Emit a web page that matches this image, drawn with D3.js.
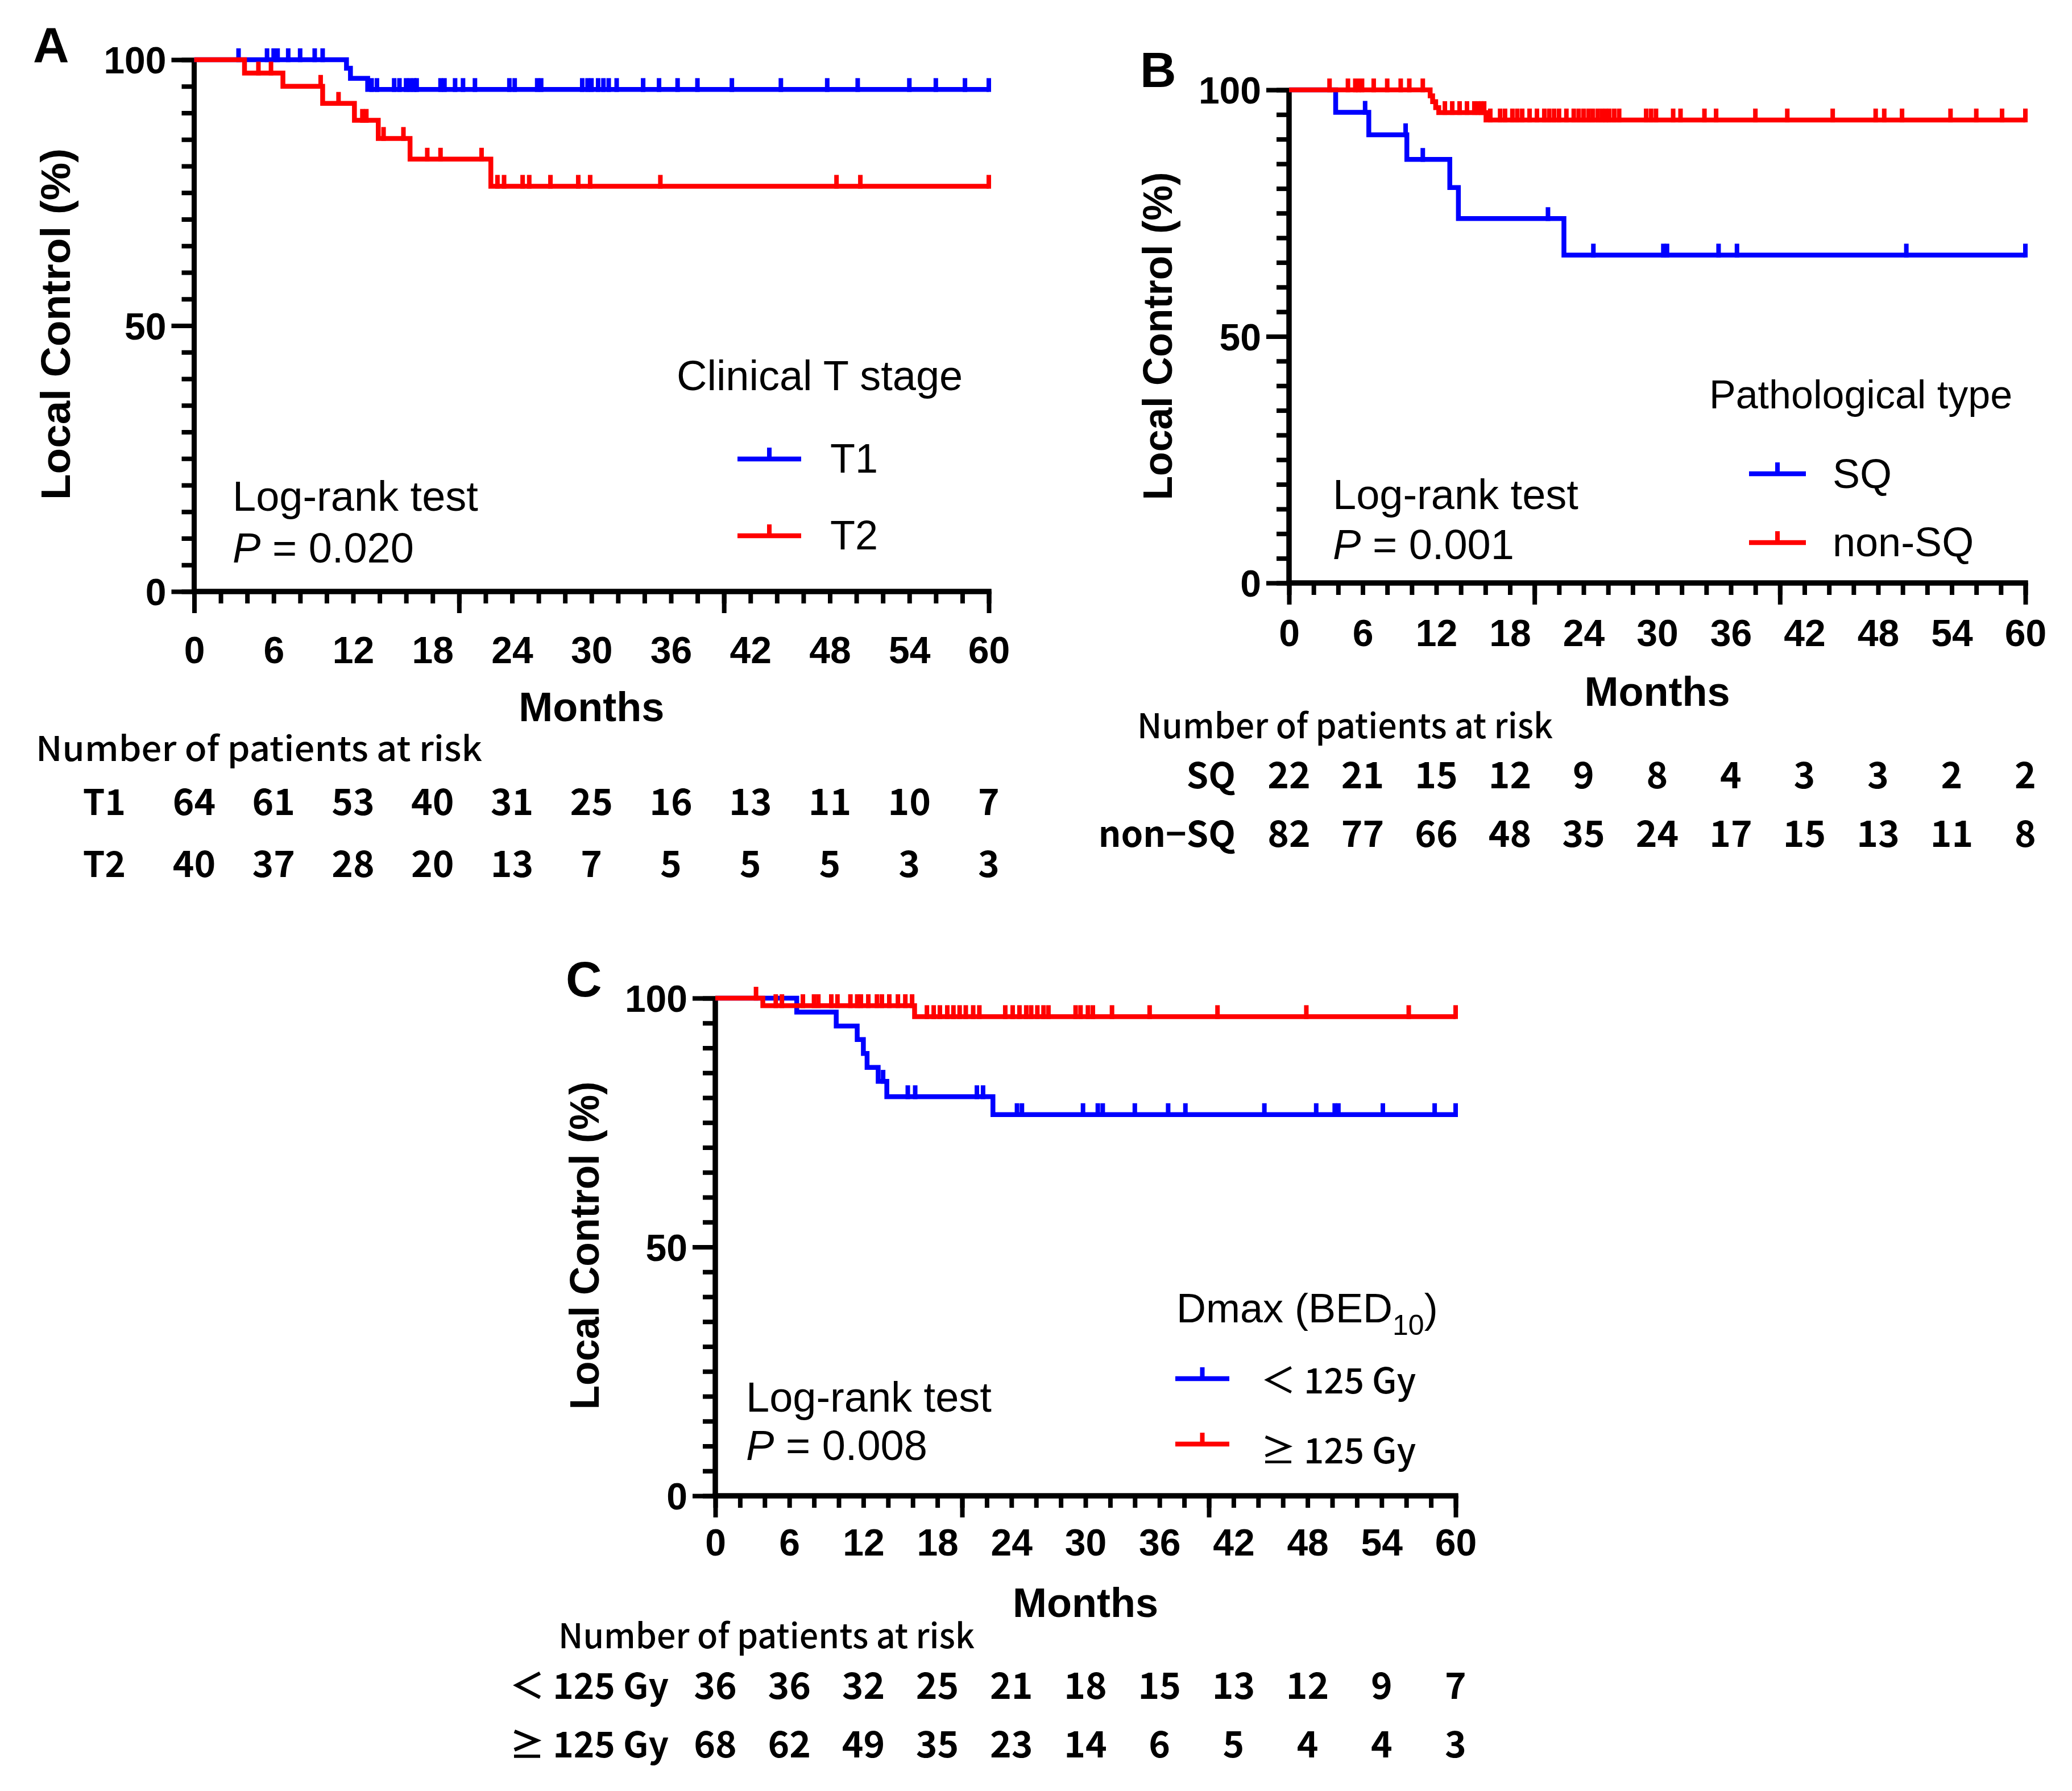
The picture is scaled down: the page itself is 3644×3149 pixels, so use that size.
<!DOCTYPE html>
<html>
<head>
<meta charset="utf-8">
<script src="https://cdn.jsdelivr.net/npm/d3@7"></script>
<style>
  html, body { margin: 0; padding: 0; background: #fff; }
  svg { display: block; }
</style>
</head>
<body>
<svg id="chart" width="3644" height="3149"></svg>
<script>
// ---------------- DATA ----------------
const xTickLabels = [0, 6, 12, 18, 24, 30, 36, 42, 48, 54, 60];
const yTickLabels = [0, 50, 100];

// Panel A : Clinical T stage
const t1Times = [0, 11.5, 11.8, 13.1];
const t1Surv  = [100, 98.4, 96.5, 94.4];
const t1Cens  = [3.35, 5.5, 6.0, 6.3, 7.1, 8.0, 9.1, 9.7, 13.4, 13.8, 15.1, 15.5, 16.0, 16.3, 16.6, 16.8,
                 18.6, 18.9, 19.7, 20.3, 21.2, 23.8, 24.2, 25.9, 26.2, 29.3, 29.7, 30.0, 30.5, 30.9, 31.3,
                 31.9, 33.9, 35.1, 36.5, 38.0, 40.6, 44.3, 47.8, 50.1, 54.0, 56.0, 58.2, 60];
const t2Times = [0, 3.8, 6.7, 9.7, 12.1, 13.9, 16.3, 22.4];
const t2Surv  = [100, 97.5, 95.0, 91.8, 88.6, 85.2, 81.3, 76.2];
const t2Cens  = [4.85, 5.8, 9.55, 10.9, 12.7, 13.0, 14.3, 15.8, 17.6, 18.6, 21.7, 22.9, 23.4, 24.8, 25.3,
                 26.9, 29.0, 29.9, 35.2, 48.5, 50.3, 60];
const t1Risk = [64, 61, 53, 40, 31, 25, 16, 13, 11, 10, 7];
const t2Risk = [40, 37, 28, 20, 13, 7, 5, 5, 5, 3, 3];

// Panel B : Pathological type
const sqTimes = [0, 3.8, 6.5, 9.6, 13.1, 13.8, 22.4];
const sqSurv  = [100, 95.45, 90.9, 85.9, 80.2, 73.9, 66.5];
const sqCens  = [6.2, 9.5, 10.9, 21.1, 24.8, 30.5, 30.8, 35.0, 36.5, 50.3, 60];
const nsqTimes = [0, 11.5, 11.7, 11.95, 12.2, 16.05];
const nsqSurv  = [100, 98.8, 97.6, 96.4, 95.4, 93.9];
const nsqCens  = [3.3, 4.8, 5.4, 5.65, 5.95, 6.9, 8.0, 9.1, 9.8, 10.9, 12.7, 13.3, 13.9, 14.5, 15.1, 15.4,
                  15.65, 15.9, 16.4, 17.2, 17.6, 18.2, 18.6, 19.0, 19.6, 20.2, 20.8, 21.2, 21.6, 22.0, 22.6,
                  23.2, 23.6, 24.0, 24.4, 24.75, 25.15, 25.5, 25.8, 26.1, 26.5, 26.9, 29.1, 29.5, 29.9, 31.3,
                  31.9, 33.85, 34.8, 38.0, 40.6, 44.3, 47.8, 48.5, 49.95, 53.9, 56.0, 58.1, 60];
const sqRisk  = [22, 21, 15, 12, 9, 8, 4, 3, 3, 2, 2];
const nsqRisk = [82, 77, 66, 48, 35, 24, 17, 15, 13, 11, 8];

// Panel C : Dmax (BED10)
const lowTimes = [0, 6.6, 9.8, 11.5, 12.0, 12.3, 13.2, 13.9, 22.5];
const lowSurv  = [100, 97.2, 94.4, 91.7, 88.9, 86.1, 83.3, 80.2, 76.6];
const lowCens  = [13.6, 15.6, 16.2, 21.2, 21.7, 24.45, 24.85, 29.8, 31.0, 31.4, 34.0, 36.7, 38.1, 44.5,
                  48.7, 50.2, 50.5, 54.1, 58.3, 60];
const highTimes = [0, 3.85, 16.15];
const highSurv  = [100, 98.5, 96.3];
const highCens  = [3.3, 4.9, 5.4, 7.1, 8.0, 8.35, 9.4, 9.9, 10.95, 11.5, 11.8, 12.4, 13.1, 13.5, 14.1, 14.8,
                   15.4, 15.95, 17.15, 17.7, 18.2, 18.8, 19.3, 19.8, 20.3, 20.9, 21.4, 23.5, 24.1, 24.65,
                   25.2, 25.6, 26.1, 26.6, 27.0, 29.2, 29.6, 30.2, 30.6, 32.15, 35.2, 40.7, 47.9, 56.2, 60];
const lowRisk  = [36, 36, 32, 25, 21, 18, 15, 13, 12, 9, 7];
const highRisk = [68, 62, 49, 35, 23, 14, 6, 5, 4, 4, 3];

// ---------------- DRAWING ----------------
const BLUE = "#0000ff", RED = "#ff0000";
const SANS = "'Liberation Sans', Arial, Helvetica, sans-serif";
const TABLE = "'Noto Sans CJK JP', 'Noto Sans', sans-serif";
const TABLE_W = 700, TITLE_W = 500;
const svg = d3.select("#chart");
svg.append("rect").attr("width", 3644).attr("height", 3149).attr("fill", "#fff");

const panels = [
  {
    letter: "A", letterPos: [58, 109],
    box: {x0: 341.5, x1: 1739, yTop: 105, yBot: 1040},
    yTitle: {cx: 98, cy: 570, len: 618},
    xLabelBase: 1166, monthsBase: 1268,
    risk: {titleX: 63, titleBase: 1338, titleLen: 785, rows: [1433, 1542], labelRight: 221},
    logrank: {x: 409, b1: 898, b2: 989, p: "0.020"},
    legend: {title: "Clinical T stage", tx: 1190, tb: 686, tsize: 74, lx0: 1297, lx1: 1409, ly: [807, 942], textX: 1460, textB: [831, 966], tableFont: false},
    series: [
      {name: "T1", times: t1Times, surv: t1Surv, cens: t1Cens, risk: t1Risk, color: BLUE},
      {name: "T2", times: t2Times, surv: t2Surv, cens: t2Cens, risk: t2Risk, color: RED}
    ]
  },
  {
    letter: "B", letterPos: [2005, 153],
    box: {x0: 2267, x1: 3562, yTop: 158, yBot: 1025},
    yTitle: {cx: 2036, cy: 591, len: 577},
    xLabelBase: 1136, monthsBase: 1241,
    risk: {titleX: 2000, titleBase: 1298, titleLen: 731, rows: [1386, 1489], labelRight: 2173},
    logrank: {x: 2344, b1: 895, b2: 983, p: "0.001"},
    legend: {title: "Pathological type", tx: 3006, tb: 718, tsize: 70, lx0: 3076, lx1: 3176, ly: [833, 954], textX: 3223, textB: [858, 978], tableFont: false},
    series: [
      {name: "SQ", times: sqTimes, surv: sqSurv, cens: sqCens, risk: sqRisk, color: BLUE},
      {name: "non−SQ", legendName: "non-SQ", times: nsqTimes, surv: nsqSurv, cens: nsqCens, risk: nsqRisk, color: RED}
    ]
  },
  {
    letter: "C", letterPos: [995, 1752],
    box: {x0: 1258, x1: 2560, yTop: 1755, yBot: 2630},
    yTitle: {cx: 1028, cy: 2190, len: 577},
    xLabelBase: 2735, monthsBase: 2843,
    risk: {titleX: 982, titleBase: 2898, titleLen: 732, rows: [2987, 3090], labelRight: 1176},
    logrank: {x: 1312, b1: 2482, b2: 2567, p: "0.008"},
    legend: {title: "Dmax (BED", sub: "10", tx: 2069, tb: 2325, tsize: 72, lx0: 2067, lx1: 2162, ly: [2424, 2539], textX: 2217, textB: [2450, 2573], tableFont: true},
    series: [
      {name: "＜ 125 Gy", times: lowTimes, surv: lowSurv, cens: lowCens, risk: lowRisk, color: BLUE},
      {name: "≥ 125 Gy", times: highTimes, surv: highSurv, cens: highCens, risk: highRisk, color: RED}
    ]
  }
];

const CENS_H = 20, LINE_W = 8.5, CENS_W = 8, AXIS_W = 9, TICK_W = 8;

panels.forEach(p => {
  const b = p.box;
  const x = d3.scaleLinear().domain([0, 60]).range([b.x0, b.x1]);
  const y = d3.scaleLinear().domain([0, 100]).range([b.yBot, b.yTop]);
  const g = svg.append("g");

  // ---- Y axis: minor ticks every 5, major (labelled) at 0/50/100
  const yMinor = g.append("g").attr("transform", `translate(${b.x0},0)`)
    .call(d3.axisLeft(y).tickValues(d3.range(0, 101, 5)).tickSizeInner(22).tickSizeOuter(0).tickFormat(""));
  const yMajor = g.append("g").attr("transform", `translate(${b.x0},0)`)
    .call(d3.axisLeft(y).tickValues(yTickLabels).tickSizeInner(40).tickSizeOuter(0).tickPadding(9).tickFormat(d3.format("d")));
  [yMinor, yMajor].forEach(a => {
    a.select(".domain").attr("stroke", "#000").attr("stroke-width", AXIS_W)
      .attr("d", `M0,${b.yBot}V${b.yTop - 2}`);
    a.selectAll(".tick line").attr("stroke", "#000").attr("stroke-width", TICK_W);
  });
  yMajor.selectAll(".tick text")
    .attr("font-family", SANS).attr("font-weight", "bold").attr("font-size", 66).attr("fill", "#000")
    .attr("dy", "0.36em");

  // ---- X axis: minor every 2, major every 20, labels every 6
  const xMinor = g.append("g").attr("transform", `translate(0,${b.yBot})`)
    .call(d3.axisBottom(x).tickValues(d3.range(0, 61, 2)).tickSizeInner(21).tickSizeOuter(0).tickFormat(""));
  const xMajor = g.append("g").attr("transform", `translate(0,${b.yBot})`)
    .call(d3.axisBottom(x).tickValues([0, 20, 40, 60]).tickSizeInner(38).tickSizeOuter(0).tickFormat(""));
  const padX = (p.xLabelBase - b.yBot) - 0.72 * 66;
  const xLab = g.append("g").attr("transform", `translate(0,${b.yBot})`)
    .call(d3.axisBottom(x).tickValues(xTickLabels).tickSize(0).tickPadding(padX).tickFormat(d3.format("d")));
  xLab.select(".domain").remove();
  xLab.selectAll(".tick text")
    .attr("font-family", SANS).attr("font-weight", "bold").attr("font-size", 66).attr("fill", "#000")
    .attr("dy", "0.72em");
  [xMinor, xMajor].forEach(a => {
    a.select(".domain").attr("stroke", "#000").attr("stroke-width", AXIS_W)
      .attr("d", `M${b.x0 - AXIS_W / 2},0H${b.x1 + AXIS_W / 2}`);
    a.selectAll(".tick line").attr("stroke", "#000").attr("stroke-width", TICK_W);
  });

  // ---- curves
  p.series.forEach(s => {
    const pts = s.times.map((t, i) => [t, s.surv[i]]);
    pts.push([60, s.surv[s.surv.length - 1]]);
    const line = d3.line().x(d => x(d[0])).y(d => y(d[1])).curve(d3.curveStepAfter);
    g.append("path").attr("d", line(pts)).attr("fill", "none")
      .attr("stroke", s.color).attr("stroke-width", LINE_W).attr("stroke-linejoin", "miter").attr("stroke-linecap", "butt");
    const levelAt = t => s.surv[d3.bisectRight(s.times, t) - 1];
    g.selectAll(null).data(s.cens).join("line")
      .attr("x1", d => x(d)).attr("x2", d => x(d))
      .attr("y1", d => y(levelAt(d)) + LINE_W / 2).attr("y2", d => y(levelAt(d)) - CENS_H)
      .attr("stroke", s.color).attr("stroke-width", CENS_W);
  });

  // ---- panel letter
  g.append("text").attr("x", p.letterPos[0]).attr("y", p.letterPos[1]).text(p.letter)
    .attr("font-family", SANS).attr("font-weight", "bold").attr("font-size", 88);

  // ---- y title
  g.append("text").attr("transform", `translate(${p.yTitle.cx},${p.yTitle.cy}) rotate(-90)`)
    .attr("text-anchor", "middle").attr("dominant-baseline", "central")
    .attr("font-family", SANS).attr("font-weight", "bold").attr("font-size", 72)
    .attr("textLength", p.yTitle.len).attr("lengthAdjust", "spacingAndGlyphs")
    .text("Local Control (%)");

  // ---- Months
  g.append("text").attr("x", (b.x0 + b.x1) / 2).attr("y", p.monthsBase).attr("text-anchor", "middle")
    .attr("font-family", SANS).attr("font-weight", "bold").attr("font-size", 72).text("Months");

  // ---- log-rank
  g.append("text").attr("x", p.logrank.x).attr("y", p.logrank.b1)
    .attr("font-family", SANS).attr("font-size", 74).text("Log-rank test");
  const pt = g.append("text").attr("x", p.logrank.x).attr("y", p.logrank.b2)
    .attr("font-family", SANS).attr("font-size", 74);
  pt.append("tspan").attr("font-style", "italic").text("P");
  pt.append("tspan").text(" = " + p.logrank.p);

  // ---- legend
  const L = p.legend;
  const lt = g.append("text").attr("x", L.tx).attr("y", L.tb).attr("font-family", SANS).attr("font-size", L.tsize);
  lt.append("tspan").text(L.title);
  if (L.sub) {
    lt.append("tspan").attr("font-size", 50).attr("dy", 22).text(L.sub);
    lt.append("tspan").attr("dy", -22).text(")");
  }
  p.series.forEach((s, i) => {
    const ly = L.ly[i];
    g.append("line").attr("x1", L.lx0).attr("x2", L.lx1).attr("y1", ly).attr("y2", ly)
      .attr("stroke", s.color).attr("stroke-width", LINE_W);
    const mx = (L.lx0 + L.lx1) / 2;
    g.append("line").attr("x1", mx).attr("x2", mx).attr("y1", ly).attr("y2", ly - CENS_H)
      .attr("stroke", s.color).attr("stroke-width", CENS_W);
    g.append("text").attr("x", L.textX).attr("y", L.textB[i])
      .attr("font-family", L.tableFont ? TABLE : SANS).attr("font-weight", L.tableFont ? TITLE_W : 400)
      .attr("font-size", L.tableFont ? 62 : 72)
      .text(s.legendName || s.name);
  });

  // ---- at-risk table
  const R = p.risk;
  g.append("text").attr("x", R.titleX).attr("y", R.titleBase)
    .attr("font-family", TABLE).attr("font-weight", TITLE_W).attr("font-size", 60)
    .attr("textLength", R.titleLen).attr("lengthAdjust", "spacingAndGlyphs")
    .text("Number of patients at risk");
  p.series.forEach((s, i) => {
    const rb = R.rows[i];
    g.append("text").attr("x", R.labelRight).attr("y", rb).attr("text-anchor", "end")
      .attr("font-family", TABLE).attr("font-weight", TABLE_W).attr("font-size", 62).text(s.name);
    g.selectAll(null).data(s.risk).join("text")
      .attr("x", (d, j) => x(xTickLabels[j])).attr("y", rb).attr("text-anchor", "middle")
      .attr("font-family", TABLE).attr("font-weight", TABLE_W).attr("font-size", 64)
      .text(d => d);
  });
});
</script>
</body>
</html>
